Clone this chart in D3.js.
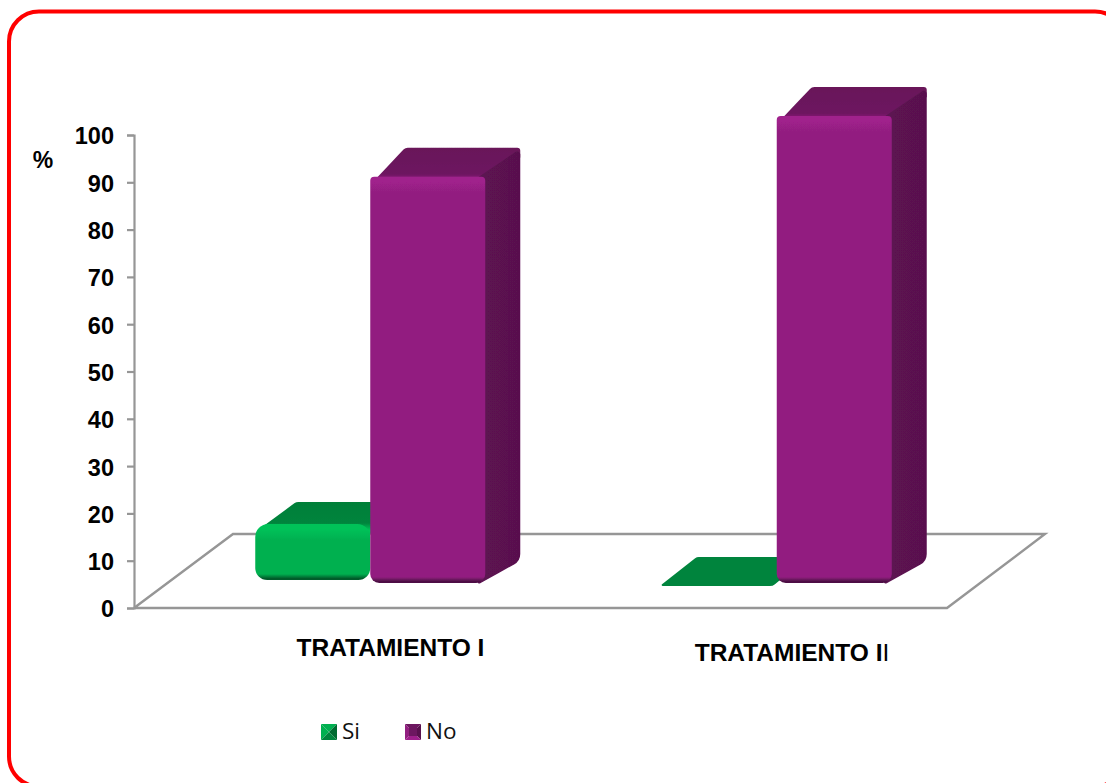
<!DOCTYPE html>
<html><head><meta charset="utf-8">
<style>html,body{margin:0;padding:0;background:#fff;overflow:hidden}svg{display:block}</style>
<script src="https://cdnjs.cloudflare.com/ajax/libs/d3/7.8.5/d3.min.js"></script>
</head><body>
<svg id="c" width="1106" height="783"></svg>
<script>
const categories = ["TRATAMIENTO I", "TRATAMIENTO II"];
const seriesNames = ["Si", "No"];
const siValues = [12, 0];
const noValues = [87, 100];
const tickValues = [0,10,20,30,40,50,60,70,80,90,100];

const svg = d3.select("#c");
const defs = svg.append("defs");
defs.append("filter").attr("id","soft").attr("x","-5%").attr("y","-5%").attr("width","110%").attr("height","110%")
  .append("feGaussianBlur").attr("stdDeviation",0.6);
svg.append("rect").attr("x",9).attr("y",11.5).attr("width",1116).attr("height",775).attr("rx",30)
  .attr("fill","#fff").attr("stroke","#ff0000").attr("stroke-width",4);

const yAxisScale = d3.scaleLinear().domain([0,100]).range([608,135]);
const heightScale = d3.scaleLinear().domain([0,100]).range([0,467]);
const xBand = d3.scaleBand().domain(categories).range([134,947]);
const xSeries = d3.scaleBand().domain(seriesNames).range([-82,148]);

const grey = "#969696";
const line = d3.line();
svg.append("path").attr("d",line([[134,608],[947,608],[1045,534],[233,534],[134,608]]))
  .attr("fill","#fff").attr("stroke",grey).attr("stroke-width",2.4);
const axisG = svg.append("g").attr("transform","translate(134,0)")
  .call(d3.axisLeft(yAxisScale).tickValues(tickValues).tickSize(7).tickPadding(13));
axisG.selectAll("path,line").attr("stroke",grey).attr("stroke-width",2.2);
axisG.selectAll("text").attr("fill","#000").attr("dy","0.38em").style("font","bold 23.5px 'Liberation Sans'");
svg.append("text").attr("x",43).attr("y",168).attr("text-anchor","middle")
  .style("font","bold 23px 'Liberation Sans'").text("%");

const palettes = {
  Si:{front:"#00b050",hi:"#00c259",lo:"#005c2a",top:"#00843c",topDark:"#007f39",side:"#006a30"},
  No:{front:"#921f80",hi:"#a0208c",lo:"#4d1044",top:"#6d1760",topDark:"#691659",side:"#59114e"}
};
function grad(id, x1,y1,x2,y2, stops){
  const g = defs.append("linearGradient").attr("id",id).attr("gradientUnits","userSpaceOnUse")
    .attr("x1",x1).attr("y1",y1).attr("x2",x2).attr("y2",y2);
  stops.forEach(s=>g.append("stop").attr("offset",s[0]).attr("stop-color",s[1]));
  return `url(#${id})`;
}
function rounded(pts, radii){
  const p = d3.path(), n = pts.length;
  const a = pts[n-1], b = pts[0];
  p.moveTo((a[0]+b[0])/2,(a[1]+b[1])/2);
  for(let i=0;i<n;i++){
    const c = pts[i], d = pts[(i+1)%n];
    p.arcTo(c[0],c[1],(c[0]+d[0])/2,(c[1]+d[1])/2,radii[i]);
    p.lineTo((c[0]+d[0])/2,(c[1]+d[1])/2);
  }
  p.closePath();
  return p.toString();
}
const baseY = {Si:580, No:583};
const depth = {Si:[41,-22], No:[35,-29]};
const barLayer = svg.append("g").attr("filter","url(#soft)");
function bar(cat, name, val, idx){
  const p = palettes[name];
  const x0 = xBand(cat) + xBand.bandwidth()/2 + xSeries(name);
  const w = xSeries.bandwidth(), x1 = x0 + w;
  const b = baseY[name], h = heightScale(val), t = b - h;
  const g = barLayer.append("g");
  if(val===0){
    g.append("path").attr("d",rounded([[x0-2,b+6],[x1-4,b+6],[x1+31,b-23],[x0+35,b-23]],[1,8,10,6]))
     .attr("fill",p.top);
    return;
  }
  const [dx,dy] = depth[name];
  g.append("path").attr("d",rounded([[x0,t+8],[x0+dx,t+dy],[x1+dx,t+dy],[x1+dx,t+dy+10],[x1,t+10]],[2,6,3,1,1]))
   .attr("fill",grad(`t${name}${idx}`,0,t+dy,0,t+6,[[0,p.topDark],[.75,p.top],[1,p.hi]]));
  if(name==="No"){
    g.append("path").attr("d",rounded([[x1-8,t+1],[x1+dx,t+dy+1],[x1+dx,b+dy+7],[x1-8,b+2]],[1,3,12,2]))
     .attr("fill",grad(`s${name}${idx}`,x1,0,x1+dx,0,[[0,"#5c1251"],[1,p.side]]));
  }
  const rTop = name==="Si" ? 13 : 4, rBot = name==="Si" ? 12 : 9;
  g.append("path").attr("d",rounded([[x0,t],[x1,t],[x1,b],[x0,b]],[rTop,rTop,rBot,rBot]))
   .attr("fill",grad(`f${name}${idx}`,0,t,0,b,[
     [0,p.hi],[Math.min(5/h,.1),p.hi],[Math.min(16/h,.35),p.front],[1-6/h,p.front],[1-1.5/h,p.lo],[1,p.lo]]));
}
categories.forEach((c,i)=>{
  bar(c,"Si",siValues[i],i);
  bar(c,"No",noValues[i],i);
});
const catX = [390.5, 792];
const catY = [656, 661];
const catText = svg.selectAll(".cat").data(categories).join("text").attr("class","cat")
  .attr("x",(d,i)=>catX[i]).attr("y",(d,i)=>catY[i]).attr("text-anchor","middle")
  .style("font","bold 24.5px 'Liberation Sans'");
catText.append("tspan").text((d,i)=> i===1 ? d.slice(0,-1) : d);
catText.filter((d,i)=>i===1).append("tspan").style("font-weight","normal").text(d=>d.slice(-1));
const legX = {Si:321, No:405};
const lg = svg.selectAll(".leg").data(seriesNames).join("g").attr("class","leg")
  .attr("transform",d=>`translate(${legX[d]},724)`);
lg.append("path").attr("d","M0,0L16,0L8,8Z").attr("fill",d=>d==="Si"?palettes[d].front:palettes[d].top);
lg.append("path").attr("d","M0,0L0,16L8,8Z").attr("fill",d=>palettes[d].front);
lg.append("path").attr("d","M16,0L16,16L8,8Z").attr("fill",d=>palettes[d].side);
lg.append("path").attr("d","M0,16L16,16L8,8Z").attr("fill",d=>d==="Si"?palettes[d].top:palettes[d].hi);
lg.filter(d=>d==="No").append("rect").attr("x",4).attr("y",4).attr("width",8).attr("height",8).attr("fill",palettes.No.top);
lg.append("text").attr("x",21).attr("y",15).style("font","22.5px 'Open Sans'").attr("fill","#111").text(d=>d);
</script>
</body></html>
